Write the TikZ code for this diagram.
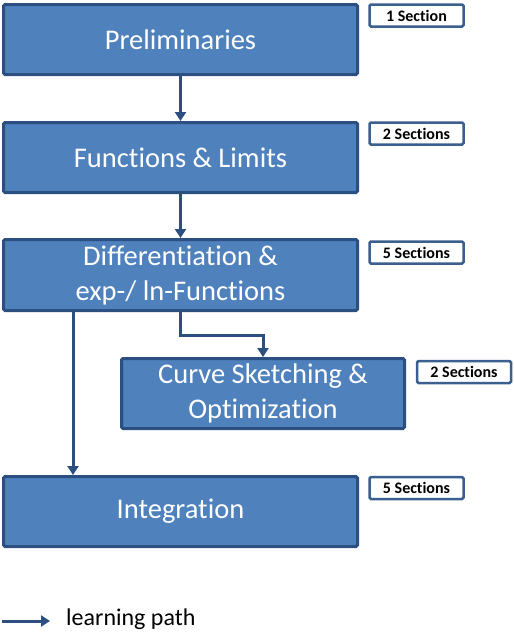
\documentclass[tikz,border=0pt]{standalone}
\usepackage{fontspec}
\setmainfont{Carlito}[RawFeature={-liga;-clig;-dlig}]
\usetikzlibrary{arrows.meta}
\definecolor{boxfill}{HTML}{4F81BD}
\definecolor{boxline}{HTML}{2A4F80}
\definecolor{tagline}{HTML}{3B5F8E}
\tikzset{
  topic/.style={rectangle, rounded corners=1.5pt, fill=boxfill, draw=boxline, line width=3pt,
    minimum width=354pt, minimum height=70pt, inner sep=0pt, text=white, align=center,
    font=\fontsize{28.5}{35}\selectfont},
  tag/.style={rectangle, rounded corners=1.5pt, fill=white, draw=tagline, line width=2.5pt,
    minimum width=94pt, minimum height=22pt, inner sep=0pt, text=black,
    font=\fontsize{16}{18}\selectfont\bfseries},
  arr/.style={draw=boxline, line width=3pt, -{Triangle[width=11pt,length=9pt]}}
}
\begin{document}
\begin{tikzpicture}[x=1pt,y=-1pt]
\useasboundingbox (0,0) rectangle (514,643);
\node[topic] (prelim) at (180.5,39.5) {Preliminaries};
\node[topic] (func) at (180.5,157.5) {Functions \& Limits};
\node[topic, minimum height=71pt] (diff) at (180.5,275) {Differentiation \&\\exp-/ ln-Functions};
\node[topic, minimum width=283pt] (curve) at (263,393.5) {Curve Sketching \&\\Optimization};
\node[topic] (integ) at (180.5,511.5) {Integration};
\node[tag] (t1) at (416.5,15.5) {1 Section};
\node[tag] (t2) at (416.5,133.5) {2 Sections};
\node[tag] (t3) at (416.5,252.5) {5 Sections};
\node[tag] (t4) at (464,372) {2 Sections};
\node[tag] (t5) at (416.5,488) {5 Sections};
\draw[arr] (prelim.south) -- (func.north);
\draw[arr] (func.south) -- (diff.north);
\draw[arr] (diff.south) -- ++(0,23) -| (curve.north);
\coordinate (lx) at (73,0);
\draw[arr] (diff.south -| lx) -- (integ.north -| lx);
\coordinate (l1) at (2,621);
\coordinate (l2) at (50,621);
\draw[arr] (l1) -- (l2);
\node[anchor=west, inner sep=0pt, font=\fontsize{24}{28}\selectfont] (leg) at (66,619) {learning path};
\end{tikzpicture}
\end{document}
